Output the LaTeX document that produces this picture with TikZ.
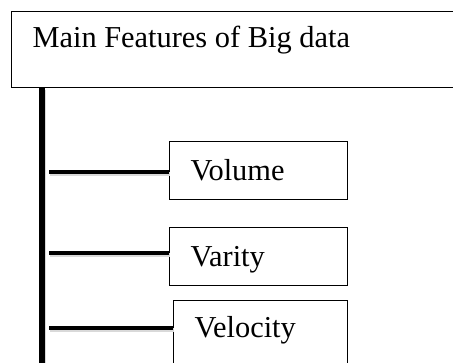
\documentclass[tikz,border=0pt]{standalone}
\usepackage{fontspec}
\setmainfont{Liberation Serif}
\begin{document}
\begin{tikzpicture}[x=0.75pt,y=-0.75pt,
  lbl/.style={font=\fontsize{22.8}{27}\selectfont, text height=15pt, text depth=0pt},
  featbox/.style={draw, line width=0.8pt, anchor=north west, lbl, inner xsep=15.75pt, inner ysep=0pt,
     minimum height=43.5pt, align=flush left},
  stem/.style={line width=4.2pt, preaction={draw=black!15, line width=4.2pt, transform canvas={shift={(1.2pt,-1.2pt)}}}},
  branch/.style={line width=3.4pt, preaction={draw=black!15, line width=3.4pt, transform canvas={shift={(0.6pt,-1.5pt)}}}}]
\useasboundingbox (0,0) rectangle (453,362);
\fill[white] (0,0) rectangle (453,362);
\node[featbox, text width=330pt, minimum height=57pt, text depth=18pt] (title) at (11,11) {Main Features of Big data};
\node[featbox, text width=102pt] (vol) at (169,141) {Volume};
\node[featbox, text width=102pt] (var) at (169,227) {Varity};
\node[featbox, text width=99pt, minimum height=52pt, text depth=12pt] (vel) at (173,300) {Velocity};
\coordinate (vbot) at (42,372);
\coordinate (c1) at (49,172);
\coordinate (c2) at (49,253);
\coordinate (c3) at (49,328);
\draw[stem] (title.south west -| vbot) -- (vbot);
\draw[branch] (c1) -- (c1 -| vol.west);
\draw[branch] (c2) -- (c2 -| var.west);
\draw[branch] (c3) -- (c3 -| vel.west);
\end{tikzpicture}
\end{document}
